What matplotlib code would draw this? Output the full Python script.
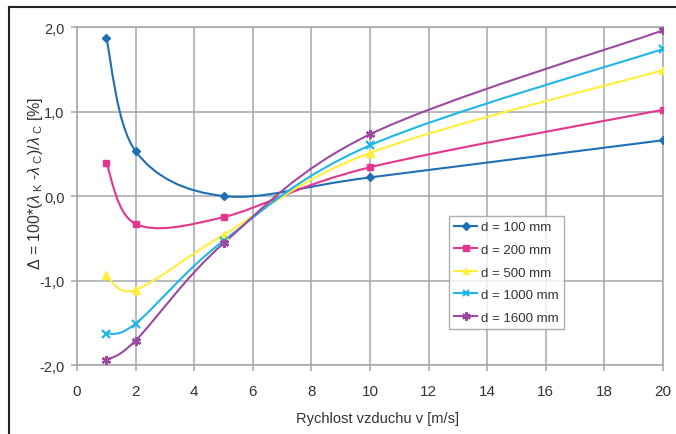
import numpy as np
import matplotlib
matplotlib.use("Agg")
import matplotlib.pyplot as plt
from matplotlib.path import Path
from matplotlib.patches import PathPatch
from matplotlib.lines import Line2D

plt.rcParams['font.family'] = ['Liberation Sans', 'DejaVu Sans']
plt.rcParams['mathtext.fontset'] = 'custom'
plt.rcParams['mathtext.rm'] = 'Liberation Sans'
plt.rcParams['mathtext.it'] = 'Liberation Sans:italic'

# data
speed = [1, 2, 5, 10, 20]
labels = ['d = 100 mm', 'd = 200 mm', 'd = 500 mm', 'd = 1000 mm', 'd = 1600 mm']
d100 = [1.87, 0.53, 0.00, 0.22, 0.66]
d200 = [0.39, -0.33, -0.25, 0.34, 1.02]
d500 = [-0.94, -1.11, -0.46, 0.51, 1.49]
d1000 = [-1.63, -1.51, -0.53, 0.60, 1.74]
d1600 = [-1.94, -1.71, -0.56, 0.73, 1.96]
series = [d100, d200, d500, d1000, d1600]

colors = ['#1f6fb5', '#e5358f', '#ffee3a', '#1fb6ea', '#9c4a9f']
markers = ['D', 's', '^', 'x', (6, 2, 0)]
msizes = [4.5, 5, 5.5, 5.5, 6.5]
TXT = '#333333'
GRID = '#a3a8b0'


def smooth_path(x, y):
    # excel-like smoothed line: cubic bezier segments through the points
    p = np.column_stack([x, y]).astype(float)
    ext = np.vstack([p[0], p, p[-1]])
    verts = [p[0]]
    codes = [Path.MOVETO]
    for i in range(len(p) - 1):
        a, b, c, d = ext[i], ext[i + 1], ext[i + 2], ext[i + 3]
        verts += [b + (c - a) / 6, c - (d - b) / 6, c]
        codes += [Path.CURVE4] * 3
    return Path(verts, codes)


fig = plt.figure(figsize=(6.76, 4.35), dpi=100)
ax = fig.add_axes([0.1139, 0.1586, 0.8669, 0.777])

handles = []
for vals, col, mk, ms, lab in zip(series, colors, markers, msizes, labels):
    ax.add_patch(PathPatch(smooth_path(speed, vals), fill=False, edgecolor=col, lw=1.5, zorder=3))
    mew = 1.6 if mk in ('x', (6, 2, 0)) else 1
    ax.plot(speed, vals, linestyle='none', marker=mk, markersize=ms, color=col,
            markeredgewidth=mew, zorder=4)
    handles.append(Line2D([], [], color=col, lw=1.5, marker=mk, markersize=ms - 0.5,
                          markeredgewidth=mew))

ax.set_xlim(0, 20)
ax.set_ylim(-2, 2)
ax.set_xticks(np.arange(0, 21, 2))
ax.set_yticks([-2, -1, 0, 1, 2])
ax.set_yticklabels(['-2,0', '-1,0', '0,0', '1,0', '2,0'])
ax.grid(True, color=GRID, lw=1.1)
ax.set_axisbelow(True)
for s in ax.spines.values():
    s.set_color(GRID)
    s.set_linewidth(1.1)
ax.tick_params(colors=GRID, labelcolor=TXT, length=4, width=1.1)
ax.tick_params(axis='y', labelsize=10.5, pad=5)
ax.tick_params(axis='x', labelsize=11, pad=9.5)

ax.set_xlabel('Rychlost vzduchu v [m/s]', fontsize=10.5, color=TXT)
ax.xaxis.set_label_coords(0.512, -0.137)
ax.set_ylabel(r'$\Delta$ = 100*($\it{\lambda}_{\ \rm K}$ -$\it{\lambda}_{\ \rm C}$)/$\it{\lambda}_{\ \rm C}$ [%]',
              fontsize=11.5, color=TXT)
ax.yaxis.set_label_coords(-0.055, 0.54)

leg = ax.legend(handles, labels, loc='lower left', bbox_to_anchor=(0.635, 0.107),
                fontsize=9.5, frameon=True, fancybox=False, labelspacing=0.78,
                handlelength=1.7, handletextpad=0.3, borderpad=0.4, borderaxespad=0)
leg.get_frame().set_edgecolor('#9a9a9a')
leg.get_frame().set_linewidth(1)
for t in leg.get_texts():
    t.set_color(TXT)

# outer frame of the scanned chart
fig.add_artist(Line2D([0.0133, 1.0], [0.9816, 0.9816], color='#222222', lw=1.5))
fig.add_artist(Line2D([0.0133, 0.0133], [0.0, 0.9816], color='#222222', lw=1.5))

fig.savefig('out.png', dpi=100)
